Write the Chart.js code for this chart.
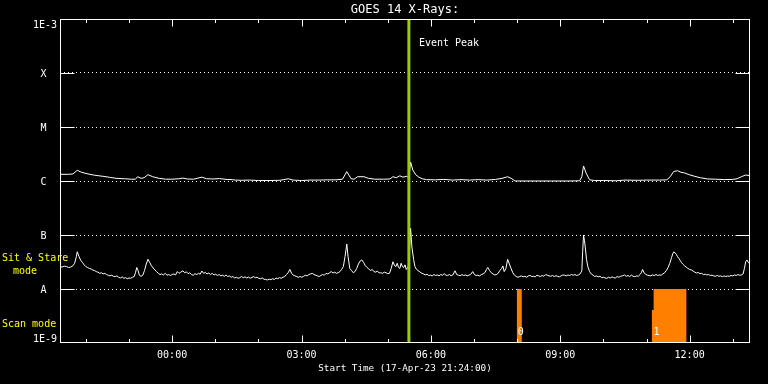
<!DOCTYPE html>
<html><head><meta charset="utf-8">
<script src="https://cdn.jsdelivr.net/npm/chart.js@4"></script>
<style>html,body{margin:0;padding:0;background:#000;}canvas{display:block}</style>
</head><body>
<canvas id="c" width="768" height="384"></canvas>
<script>
// ---- text ----
const titleText = 'GOES 14 X-Rays:';
const xAxisTitle = 'Start Time (17-Apr-23 21:24:00)';
const eventLabel = 'Event Peak';
const sitStareLabel = ['Sit & Stare', 'mode'];
const scanModeLabel = 'Scan mode';

// ---- axes (hours relative to 18-Apr-23 00:00) ----
const timeRange = [-2.6, 13.4];
const xTickHours = [0, 3, 6, 9, 12];
const xTickLabels = ['00:00', '03:00', '06:00', '09:00', '12:00'];
const yTickValues = [1e-9, 1e-8, 1e-7, 1e-6, 1e-5, 1e-4, 1e-3];
const yTickLabels = ['1E-9', 'A', 'B', 'C', 'M', 'X', '1E-3'];

// ---- event ----
const eventHour = 5.49;

// ---- long channel (1-8 A), flux in units of 1e-6 W/m2 ----
const longUnit = 1e-6;
const longTimes = [-2.6,-2.4,-2.3,-2.2,-2.1,-1.95,-1.8,-1.6,-1.45,-1.3,-1.1,-0.95,-0.85,-0.8,-0.72,-0.65,-0.56,-0.45,-0.3,-0.15,0,0.15,0.25,0.35,0.5,0.69,0.8,0.95,1.1,1.25,1.4,1.46,
1.6,1.8,2.0,2.2,2.5,2.7,2.8,3.0,3.2,3.4,3.6,3.8,3.95,4.05,4.15,4.22,4.3,4.45,4.55,4.7,4.9,5.05,5.12,5.2,5.28,5.35,5.44,5.49,5.53,5.58,5.65,5.72,5.8,5.9,
6.1,6.3,6.5,6.7,6.9,7.1,7.3,7.5,7.65,7.78,7.88,7.95,8.3,8.8,9.2,9.45,9.5,9.54,9.6,9.68,9.8,10.0,10.3,10.5,10.8,11.0,11.3,11.47,11.55,11.63,11.72,11.8,11.88,
12.0,12.12,12.25,12.42,12.6,12.8,13.0,13.1,13.2,13.3,13.4];
const longFlux = [1.33,1.33,1.35,1.58,1.45,1.35,1.28,1.22,1.17,1.12,1.1,1.08,1.08,1.2,1.12,1.15,1.31,1.2,1.12,1.08,1.08,1.1,1.13,1.09,1.08,1.18,1.1,1.09,1.11,1.07,1.06,1.04,
1.03,1.04,1.02,1.02,1.03,1.1,1.04,1.02,1.04,1.04,1.05,1.05,1.08,1.49,1.1,1.08,1.2,1.2,1.12,1.08,1.08,1.09,1.2,1.15,1.25,1.18,1.22,1.15,2.25,1.6,1.3,1.18,1.1,1.06,
1.05,1.07,1.04,1.06,1.04,1.06,1.04,1.07,1.12,1.2,1.1,1.0,1.0,1.0,1.0,1.01,1.2,1.9,1.4,1.05,1.02,1.02,1.01,1.04,1.03,1.04,1.04,1.05,1.2,1.5,1.55,1.45,1.41,
1.3,1.22,1.15,1.09,1.08,1.06,1.07,1.1,1.2,1.29,1.26];

// ---- short channel (0.5-4 A), flux in units of 1e-8 W/m2 ----
const shortUnit = 1e-8;
const shortTimes = [
-2.6,-2.55,-2.5,-2.45,-2.4,-2.35,-2.3,-2.26,-2.22,-2.2,-2.16,-2.12,-2.08,-2.04,-2.0,-1.96,-1.92,-1.88,-1.84,-1.8,
-1.76,-1.72,-1.68,-1.64,-1.6,-1.56,-1.52,-1.48,-1.44,-1.4,-1.36,-1.32,-1.28,-1.24,-1.2,-1.16,-1.12,-1.08,-1.04,-1.0,
-0.96,-0.92,-0.88,-0.85,-0.82,-0.79,-0.76,-0.72,-0.68,-0.64,-0.6,-0.56,-0.52,-0.48,-0.44,-0.4,-0.36,-0.32,-0.28,-0.24,
-0.2,-0.16,-0.12,-0.08,-0.04,0.0,0.04,0.08,0.12,0.16,0.2,0.25,0.29,0.33,0.37,0.41,0.45,0.49,0.53,0.57,
0.61,0.65,0.69,0.73,0.77,0.81,0.85,0.89,0.93,0.97,1.01,1.05,1.09,1.13,1.17,1.21,1.25,1.29,1.33,1.37,
1.41,1.45,1.49,1.53,1.57,1.61,1.65,1.69,1.73,1.77,1.81,1.85,1.89,1.93,1.97,2.01,2.05,2.09,2.13,2.17,
2.21,2.25,2.29,2.33,2.37,2.41,2.45,2.49,2.53,2.57,2.61,2.65,2.69,2.73,2.77,2.81,2.85,2.89,2.93,2.97,
3.01,3.05,3.09,3.13,3.17,3.21,3.25,3.29,3.33,3.37,3.41,3.45,3.49,3.53,3.57,3.61,3.65,3.69,3.73,3.77,
3.81,3.85,3.89,3.93,3.97,4.01,4.05,4.08,4.12,4.16,4.2,4.24,4.28,4.32,4.36,4.4,4.44,4.48,4.52,4.56,
4.6,4.64,4.68,4.72,4.76,4.8,4.84,4.88,4.92,4.96,5.0,5.04,5.08,5.12,5.16,5.19,5.22,5.25,5.28,5.31,
5.34,5.37,5.4,5.43,5.46,5.49,5.53,5.56,5.6,5.63,5.67,5.7,5.75,5.79,5.83,5.87,5.91,5.95,5.99,6.03,
6.07,6.11,6.15,6.19,6.23,6.27,6.31,6.35,6.39,6.43,6.47,6.51,6.56,6.6,6.64,6.68,6.72,6.76,6.8,6.84,
6.88,6.92,6.97,7.01,7.05,7.09,7.13,7.17,7.21,7.25,7.29,7.32,7.36,7.4,7.44,7.48,7.52,7.56,7.6,7.64,
7.67,7.7,7.74,7.78,7.82,7.86,7.9,7.94,7.98,8.02,8.06,8.1,8.14,8.18,8.22,8.26,8.3,8.34,8.38,8.42,
8.46,8.5,8.54,8.58,8.62,8.66,8.7,8.74,8.78,8.82,8.86,8.9,8.94,8.98,9.02,9.06,9.1,9.14,9.18,9.22,
9.26,9.3,9.34,9.38,9.42,9.46,9.5,9.52,9.54,9.56,9.58,9.61,9.64,9.68,9.72,9.76,9.8,9.84,9.88,9.92,
9.96,10.0,10.04,10.08,10.12,10.16,10.2,10.24,10.28,10.32,10.36,10.4,10.44,10.49,10.53,10.57,10.61,10.65,10.69,10.73,
10.77,10.81,10.85,10.88,10.91,10.94,10.98,11.02,11.06,11.1,11.14,11.18,11.22,11.26,11.3,11.34,11.38,11.42,11.46,11.5,
11.54,11.58,11.61,11.63,11.66,11.69,11.72,11.75,11.78,11.81,11.84,11.88,11.92,11.96,12.0,12.04,12.08,12.12,12.16,12.2,
12.24,12.28,12.32,12.36,12.4,12.44,12.48,12.52,12.56,12.6,12.64,12.68,12.72,12.76,12.8,12.84,12.88,12.92,12.96,13.0,
13.04,13.08,13.12,13.16,13.2,13.24,13.27,13.3,13.33,13.36,13.4];
const shortFlux = [
2.6,2.55,2.65,2.6,2.5,2.55,2.7,3.0,4.0,4.9,4.0,3.4,3.1,2.8,2.6,2.5,2.4,2.35,2.25,2.2,
2.1,2.05,1.95,2.0,1.9,1.95,1.85,1.8,1.75,1.8,1.72,1.7,1.75,1.65,1.6,1.68,1.58,1.62,1.55,1.6,
1.58,1.65,1.7,2.0,2.5,2.2,1.8,1.72,1.8,2.2,2.9,3.55,3.1,2.7,2.45,2.25,2.1,1.95,1.85,1.9,
1.82,1.95,1.8,1.85,1.78,1.85,1.9,1.82,2.1,1.95,2.05,2.17,2.0,2.08,1.92,2.0,1.85,1.8,1.92,1.85,
1.95,1.88,2.15,1.95,2.02,1.9,1.98,1.85,1.95,1.82,1.88,1.78,1.85,1.75,1.8,1.72,1.82,1.7,1.75,1.65,
1.7,1.6,1.65,1.58,1.62,1.7,1.62,1.68,1.6,1.66,1.58,1.64,1.7,1.62,1.65,1.58,1.55,1.6,1.52,1.5,
1.47,1.52,1.49,1.55,1.5,1.6,1.55,1.62,1.58,1.65,1.7,1.85,2.0,2.3,1.95,1.8,1.75,1.7,1.65,1.7,
1.65,1.72,1.8,1.75,1.85,1.9,1.95,1.85,1.8,1.75,1.7,1.78,1.85,1.8,1.95,1.9,2.0,2.1,1.98,2.05,
1.95,2.0,2.1,2.3,2.6,4.0,6.8,4.0,2.4,2.2,2.0,2.1,2.4,2.9,3.3,3.45,3.1,2.7,2.5,2.35,
2.2,2.3,2.1,2.05,2.15,1.98,2.0,1.95,2.05,2.0,1.92,1.95,2.4,3.2,2.7,2.6,3.0,2.5,2.4,3.0,
2.6,2.5,2.8,2.3,2.5,2.8,13.3,6.0,3.5,2.6,2.3,2.2,2.05,1.95,1.9,1.82,1.88,1.78,1.8,1.75,
1.85,1.78,1.82,1.75,1.85,1.8,1.92,1.8,1.78,1.85,1.76,1.82,2.17,1.85,1.8,1.76,1.85,1.78,1.82,1.75,
1.8,1.85,2.1,1.85,1.78,1.8,1.75,1.85,1.9,2.0,2.3,2.5,2.2,2.0,1.9,1.82,1.85,1.95,2.2,2.4,
2.67,2.1,2.4,3.55,2.9,2.4,2.0,1.8,1.7,1.65,1.7,1.75,1.68,1.72,1.65,1.75,1.78,1.7,1.72,1.68,
1.8,1.75,1.7,1.78,1.72,1.85,1.8,1.75,1.72,1.78,1.7,1.76,1.72,1.68,1.75,1.82,1.8,1.75,1.82,1.78,
1.85,1.8,1.85,1.78,1.82,1.9,2.17,5.0,10.0,8.0,6.0,3.5,2.6,2.1,1.9,1.8,1.7,1.75,1.68,1.72,
1.62,1.65,1.6,1.58,1.65,1.6,1.68,1.62,1.6,1.7,1.65,1.72,1.75,1.82,1.72,1.78,1.7,1.8,1.72,1.69,
1.75,1.72,1.85,2.0,2.3,2.0,1.88,1.8,1.78,1.75,1.82,1.78,1.85,1.78,1.82,1.8,1.9,2.0,2.2,2.5,
2.99,3.8,4.5,4.85,4.7,4.4,3.96,3.7,3.4,3.1,2.9,2.7,2.55,2.4,2.3,2.25,2.15,2.05,1.98,2.02,
1.92,1.95,1.85,1.88,1.82,1.85,1.78,1.8,1.75,1.72,1.78,1.72,1.75,1.69,1.75,1.7,1.74,1.72,1.78,1.75,
1.82,1.78,1.85,1.8,1.82,1.9,2.4,3.2,3.45,3.1,2.9];

// ---- scan-mode blocks: hours and top flux (W/m2) of each orange block outline ----
const scan0Hours = [7.99, 8.11];
const scan0Top = [1e-8, 1e-8];
const scan1Hours = [11.12, 11.165, 11.165, 11.93];
const scan1Top = [4.1e-9, 4.1e-9, 1e-8, 1e-8];
const scanLabelHours = [7.99, 11.14];
const scanLabels = ['0', '1'];

// ---- colours ----
const WHITE = '#ffffff', ORANGE = '#ff8000', GREEN = '#9ccc00', YELLOW = '#ffff00';
const MONO = '"DejaVu Sans Mono", "Liberation Mono", monospace';

const datasets = [];
[[scan0Hours, scan0Top], [scan1Hours, scan1Top]].forEach(([hs, tops]) => {
  datasets.push({
    data: hs.map((h, i) => ({x: h, y: tops[i]})),
    borderWidth: 0, borderColor: ORANGE, backgroundColor: ORANGE,
    fill: 'start', pointRadius: 0, tension: 0
  });
});
datasets.push({
  data: longTimes.map((t, i) => ({x: t, y: longFlux[i] * longUnit})),
  borderColor: WHITE, borderWidth: 1, pointRadius: 0, tension: 0, fill: false
});
datasets.push({
  data: shortTimes.map((t, i) => ({x: t, y: shortFlux[i] * shortUnit})),
  borderColor: WHITE, borderWidth: 1, pointRadius: 0, tension: 0, fill: false
});

function seg(ctx, x1, y1, x2, y2) { ctx.beginPath(); ctx.moveTo(x1, y1); ctx.lineTo(x2, y2); ctx.stroke(); }

const overlay = {
  id: 'overlay',
  afterDatasetsDraw(chart) {
    const {ctx, chartArea: a, scales: {x, y}} = chart;
    ctx.save();
    // event line
    const ex = x.getPixelForValue(eventHour);
    ctx.strokeStyle = GREEN; ctx.lineWidth = 3;
    seg(ctx, ex, a.top, ex, a.bottom);
    // axes frame
    ctx.strokeStyle = WHITE; ctx.lineWidth = 1;
    const L = Math.round(a.left) + 0.5, R = Math.round(a.right) - 0.5;
    const T = Math.round(a.top) + 0.5, B = Math.round(a.bottom) - 0.5;
    ctx.strokeRect(L, T, R - L, B - T);
    // y major ticks (inward, both sides), interior decades only
    yTickValues.slice(1, -1).forEach(v => {
      const py = Math.round(y.getPixelForValue(v)) + 0.5;
      seg(ctx, L, py, L + 14, py);
      seg(ctx, R - 14, py, R, py);
    });
    // x ticks: hourly minor, 3-hourly major, inward top and bottom
    for (let h = Math.ceil(timeRange[0]); h <= timeRange[1]; h++) {
      const px = Math.round(x.getPixelForValue(h)) + 0.5;
      const len = (Math.abs(h) % 3 === 0) ? 7 : 3.5;
      seg(ctx, px, T, px, T + len);
      seg(ctx, px, B, px, B - len);
    }
    // texts
    ctx.fillStyle = WHITE;
    ctx.textBaseline = 'middle';
    const cx = (a.left + a.right) / 2;
    ctx.font = '12px ' + MONO; ctx.textAlign = 'center';
    ctx.fillText(titleText, cx, 9.5);
    ctx.font = '10px ' + MONO;
    xTickHours.forEach((h, i) => ctx.fillText(xTickLabels[i], x.getPixelForValue(h), 355.5));
    ctx.font = '9.3px ' + MONO;
    ctx.fillText(xAxisTitle, cx, 368.5);
    ctx.font = '10px ' + MONO;
    yTickValues.forEach((v, i) => {
      const py = y.getPixelForValue(v);
      const lab = yTickLabels[i];
      if (i === yTickValues.length - 1) { ctx.textAlign = 'right'; ctx.textBaseline = 'top'; ctx.fillText(lab, a.left - 3, py + 1); }
      else if (i === 0) { ctx.textAlign = 'right'; ctx.textBaseline = 'bottom'; ctx.fillText(lab, a.left - 3, py + 1); }
      else { ctx.textAlign = 'center'; ctx.textBaseline = 'middle'; ctx.fillText(lab, a.left - 16.5, py + 1); }
    });
    ctx.textBaseline = 'middle'; ctx.textAlign = 'left';
    ctx.fillText(eventLabel, ex + 10, 43);
    // scan labels
    scanLabels.forEach((s, i) => ctx.fillText(s, x.getPixelForValue(scanLabelHours[i]) + 1, 332));
    // mode labels
    ctx.fillStyle = YELLOW;
    ctx.fillText(sitStareLabel[0], 2, 258);
    ctx.fillText(sitStareLabel[1], 13, 271);
    ctx.fillText(scanModeLabel, 2, 324);
    ctx.restore();
  }
};

new Chart(document.getElementById('c'), {
  type: 'line',
  data: {datasets},
  options: {
    responsive: false, animation: false, events: [],
    layout: {padding: {left: 60, right: 18, top: 19, bottom: 41}},
    plugins: {legend: {display: false}, tooltip: {enabled: false}, title: {display: false}},
    scales: {
      x: {
        type: 'linear', min: timeRange[0], max: timeRange[1],
        grid: {display: false, drawTicks: false}, border: {display: false},
        ticks: {display: false},
        afterFit(s) { s.height = 0; }
      },
      y: {
        type: 'logarithmic', min: 1e-9, max: 1e-3,
        afterBuildTicks(s) { s.ticks = yTickValues.map(v => ({value: v})); },
        grid: {
          drawTicks: false, lineWidth: 1,
          color: c => (c.tick && c.tick.value > 1e-9 && c.tick.value < 1e-3) ? WHITE : 'rgba(0,0,0,0)'
        },
        border: {display: false, dash: [1, 3]},
        ticks: {display: false},
        afterFit(s) { s.width = 0; }
      }
    }
  },
  plugins: [overlay]
});
</script>
</body></html>
